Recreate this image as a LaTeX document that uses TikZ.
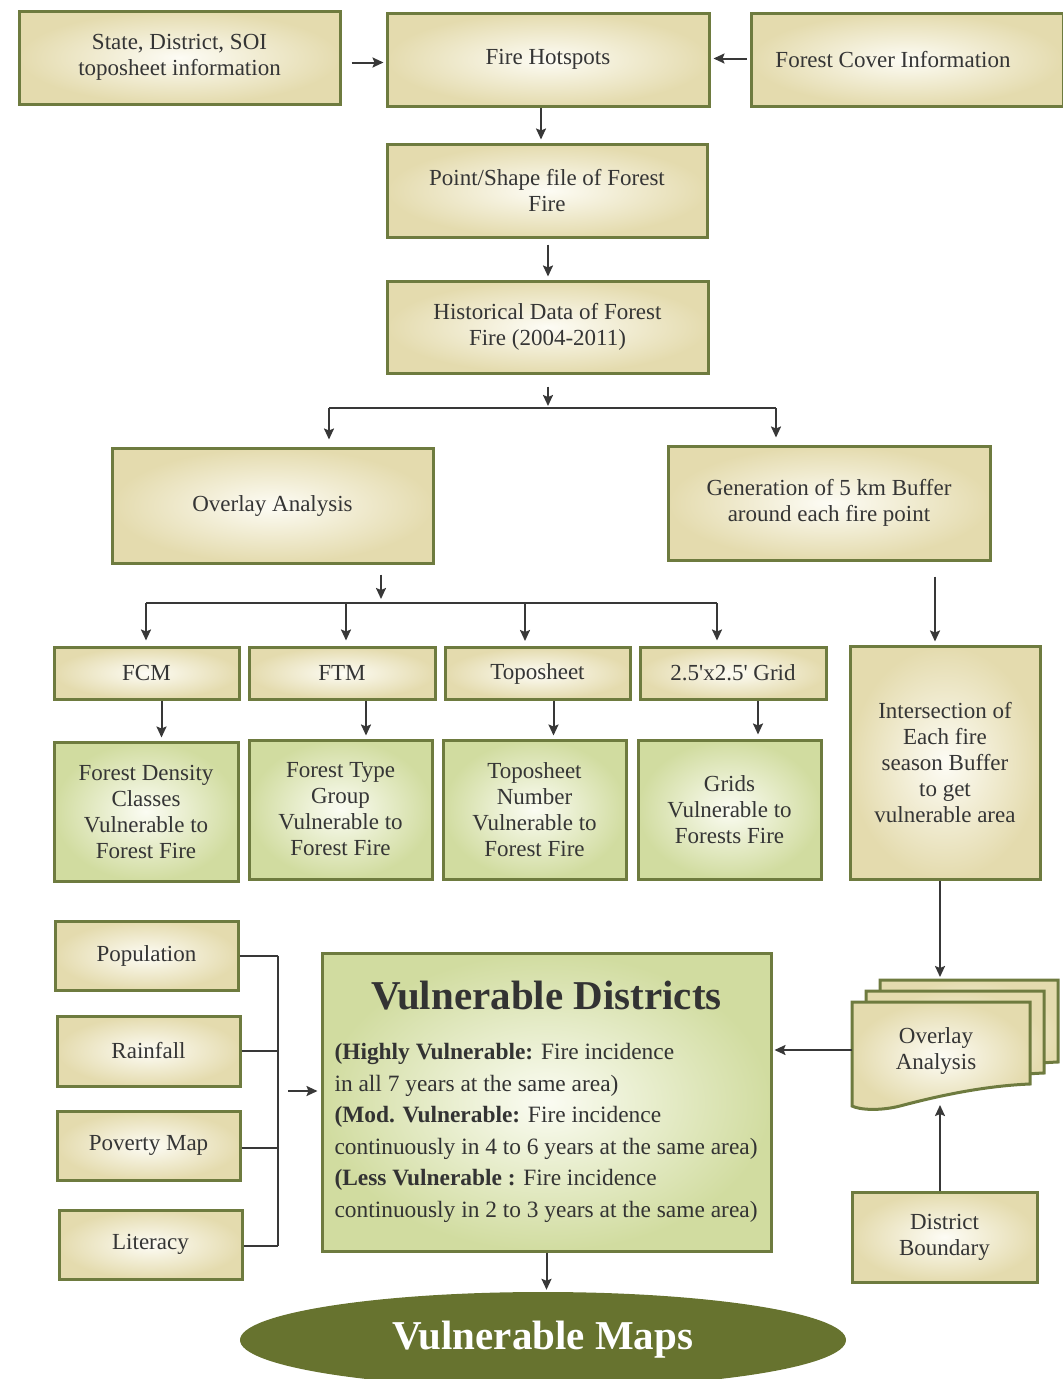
\documentclass[tikz,border=0pt]{standalone}
\usepackage{fontspec}
\setmainfont{Liberation Serif}
\usetikzlibrary{arrows.meta,calc,shapes.geometric}

\definecolor{frameol}{HTML}{6E7B3F}
\definecolor{creamout}{HTML}{E4DBAE}
\definecolor{creamin}{HTML}{FDFCF5}
\definecolor{greenout}{HTML}{D1DCA0}
\definecolor{greenin}{HTML}{FBFCF3}
\definecolor{olivefill}{HTML}{67732F}
\definecolor{inktext}{HTML}{353535}
\definecolor{wirecol}{HTML}{383838}

\tikzset{
  basebox/.style={draw=frameol, line width=3pt, align=center, text=inktext,
    font=\fontsize{23}{26}\selectfont, inner sep=0pt},
  creambox/.style={basebox, inner color=creamin, outer color=creamout},
  greenbox/.style={basebox, inner color=greenin, outer color=greenout},
  wire/.style={draw=wirecol, line width=2pt},
  arr/.style={wire, -{Stealth[length=11pt,width=10pt,inset=2pt]}},
  docshape/.style={draw=frameol, line width=3pt, inner color=creamin, outer color=creamout}
}

% document outline with a wavy lower edge, top-left corner at (#1,#2)
\newcommand{\docpath}[2]{%
  (#1,#2) -- ++(178,0) -- ++(0,82)
  .. controls ++(-50,2) and ++(30,-8) .. ++(-130,22)
  .. controls ++(-20,5) and ++(8,4) .. ++(-48,0) -- cycle}

\begin{document}
\begin{tikzpicture}[x=1pt,y=-1pt]
\useasboundingbox (0,0) rectangle (1063,1379);

% top row
\node[creambox, minimum width=321pt, minimum height=93pt] (state) at (179.5,57.5)
  {State, District, SOI\\toposheet information};
\node[creambox, minimum width=322pt, minimum height=93pt] (fire) at (548,59.5)
  {Fire Hotspots};
\node[creambox, minimum width=312pt, minimum height=93pt] (cover) at (907,59.5)
  {Forest Cover Information\hspace*{28pt}};

\node[creambox, minimum width=320pt, minimum height=93pt] (point) at (547,190.5)
  {Point/Shape file of Forest\\Fire};
\node[creambox, minimum width=321pt, minimum height=92pt] (hist) at (547.5,327)
  {Historical Data of Forest\\Fire (2004-2011)};

% second level
\node[creambox, minimum width=321pt, minimum height=115pt] (ovl) at (272.5,505.5)
  {Overlay Analysis};
\node[creambox, minimum width=322pt, minimum height=114pt] (gen) at (829,503)
  {Generation of 5 km Buffer\\around each fire point};

% layers
\node[creambox, minimum width=185pt, minimum height=52pt] (fcm) at (146.5,673) {FCM};
\node[creambox, minimum width=186pt, minimum height=52pt] (ftm) at (342,673) {FTM};
\node[creambox, minimum width=185pt, minimum height=52pt] (topo) at (537.5,673.5) {Toposheet};
\node[creambox, minimum width=186pt, minimum height=52pt] (grid) at (733,673)
  {2.5\textquotesingle x2.5\textquotesingle\ Grid};

\node[greenbox, minimum width=184pt, minimum height=139pt] (fdc) at (146,811.5)
  {Forest Density\\Classes\\Vulnerable to\\Forest Fire};
\node[greenbox, minimum width=183pt, minimum height=139pt] (ftg) at (340.5,809.5)
  {Forest Type\\Group\\Vulnerable to\\Forest Fire};
\node[greenbox, minimum width=183pt, minimum height=139pt] (tsn) at (534.5,809.5)
  {Toposheet\\Number\\Vulnerable to\\Forest Fire};
\node[greenbox, minimum width=183pt, minimum height=139pt] (grids) at (729.5,809.5)
  {Grids\\Vulnerable to\\Forests Fire};

\node[creambox, minimum width=190pt, minimum height=233pt] (inter) at (945,762.5)
  {Intersection of\\Each fire\\season Buffer\\to get\\vulnerable area};

% socio-economic inputs
\node[creambox, minimum width=183pt, minimum height=69pt] (pop) at (146.5,955.5) {Population};
\node[creambox, minimum width=183pt, minimum height=70pt] (rain) at (148.5,1051) {Rainfall};
\node[creambox, minimum width=183pt, minimum height=69pt] (pov) at (148.5,1145.5) {Poverty Map};
\node[creambox, minimum width=183pt, minimum height=69pt] (lit) at (150.5,1244.5) {Literacy};

% result box
\node[greenbox, minimum width=449pt, minimum height=298pt, align=left,
      font=\fontsize{23.4}{31.6}\selectfont, text=black!80] (vd) at (546.5,1102)
  {\makebox[424pt][c]{\fontsize{41}{41}\selectfont\bfseries Vulnerable Districts}\\[18pt]
   \textbf{(Highly Vulnerable:} Fire incidence\\
   in all 7 years at the same area)\\
   \textbf{(Mod. Vulnerable:} Fire incidence\\
   continuously in 4 to 6 years at the same area)\\
   \textbf{(Less Vulnerable :} Fire incidence\\
   continuously in 2 to 3 years at the same area)};

% stacked overlay documents
\shadedraw[docshape] \docpath{880}{980};
\shadedraw[docshape] \docpath{866}{991};
\shadedraw[docshape] \docpath{852}{1002};
\node[align=center, text=inktext, font=\fontsize{23}{26}\selectfont] (stack) at (936,1051)
  {Overlay\\Analysis};
\coordinate (stacktop) at (940,977);
\coordinate (stackleft) at (852,1050);
\coordinate (stackbot) at (940,1105);

\node[creambox, minimum width=185pt, minimum height=90pt] (db) at (944.5,1237)
  {District\\Boundary};

% final output
\node[ellipse, fill=olivefill, minimum width=606pt, minimum height=96pt, inner sep=0pt,
      text=white, font=\fontsize{41}{41}\selectfont\bfseries] (maps) at (543,1340)
  {Vulnerable Maps};

% ---- connectors ----
\draw[arr, shorten <=10pt, shorten >=2pt] ([yshift=-5pt]state.east) -- ([yshift=-5pt]state.east -| fire.west);
\draw[arr, shorten <=3pt, shorten >=3pt] ([yshift=1pt]cover.west) -- ([yshift=1pt]cover.west -| fire.east);
\draw[arr, shorten >=3pt] ([xshift=-7pt]fire.south) -- ([xshift=-7pt]fire.south |- point.north);
\draw[arr, shorten <=6pt, shorten >=3pt] ([xshift=1pt]point.south) -- ([xshift=1pt]point.south |- hist.north);

% split below historical data
\coordinate (s1) at (548,408);
\coordinate (s1l) at (329,408);
\coordinate (s1r) at (776,408);
\draw[arr, shorten <=12pt, shorten >=2pt] (hist.south -| s1) -- (s1);
\draw[wire] (s1l) -- (s1r);
\draw[arr, shorten >=7pt] (s1l) -- (s1l |- ovl.north);
\draw[arr, shorten >=7pt] (s1r) -- (s1r |- gen.north);

% split below overlay analysis
\coordinate (s2) at (381,603);
\coordinate (s2a) at (146,603);
\coordinate (s2b) at (346,603);
\coordinate (s2c) at (525,603);
\coordinate (s2d) at (717,603);
\draw[arr, shorten <=10pt, shorten >=4pt] (ovl.south -| s2) -- (s2);
\draw[wire] (s2a) -- (s2d);
\draw[arr, shorten >=5pt] (s2a) -- (s2a |- fcm.north);
\draw[arr, shorten >=5pt] (s2b) -- (s2b |- ftm.north);
\draw[arr, shorten >=5pt] (s2c) -- (s2c |- topo.north);
\draw[arr, shorten >=5pt] (s2d) -- (s2d |- grid.north);

\draw[arr, shorten >=3pt] ([xshift=15pt]fcm.south) -- ([xshift=15pt]fcm.south |- fdc.north);
\draw[arr, shorten >=3pt] ([xshift=24pt]ftm.south) -- ([xshift=24pt]ftm.south |- ftg.north);
\draw[arr, shorten >=3pt] ([xshift=16pt]topo.south) -- ([xshift=16pt]topo.south |- tsn.north);
\draw[arr, shorten >=4pt] ([xshift=25pt]grid.south) -- ([xshift=25pt]grid.south |- grids.north);

\draw[arr, shorten <=15pt, shorten >=3pt] ([xshift=-10pt]inter.north |- gen.south) -- ([xshift=-10pt]inter.north);
\draw[arr] (inter.south -| stacktop) -- (stacktop);
\draw[arr, shorten >=2pt] (stackleft) -- (stackleft -| vd.east);
\draw[arr] (db.north -| stackbot) -- (stackbot);

% bracket joining the socio-economic inputs
\coordinate (bt) at (278,955.5);
\coordinate (bb) at (278,1246);
\coordinate (bm) at (278,1091);
\draw[wire] (pop.east) -- (pop.east -| bt);
\draw[wire] (rain.east) -- (rain.east -| bt);
\draw[wire] ([yshift=-2pt]pov.east) -- ([yshift=-2pt]pov.east -| bt);
\draw[wire] ([yshift=-1.5pt]lit.east) -- ([yshift=-1.5pt]lit.east -| bt);
\draw[wire] (bt) -- (bb);
\draw[arr, shorten <=10pt, shorten >=3pt] (bm) -- (bm -| vd.west);

\draw[arr, shorten >=2pt] (vd.south) -- (vd.south |- maps.north);
\end{tikzpicture}
\end{document}
